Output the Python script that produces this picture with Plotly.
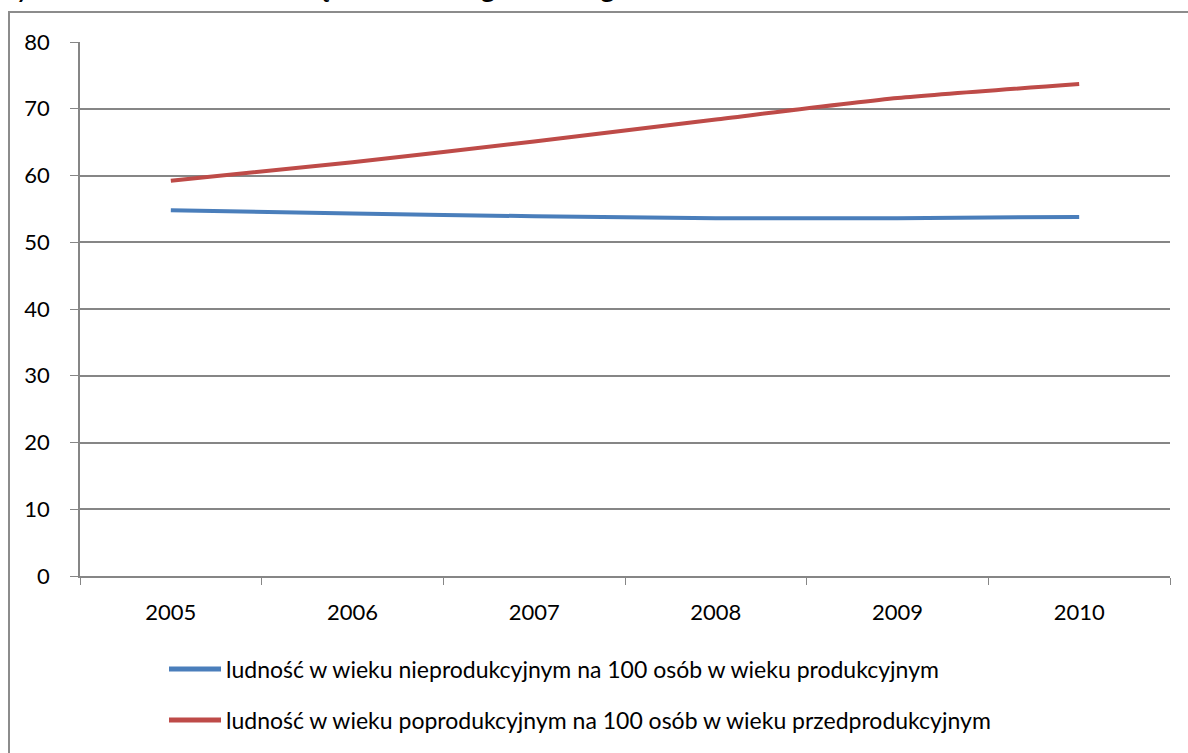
import plotly.graph_objects as go

years = ["2005", "2006", "2007", "2008", "2009", "2010"]
niepro = [54.8, 54.3, 53.9, 53.6, 53.6, 53.8]
popro = [59.2, 62.0, 65.1, 68.4, 71.6, 73.7]
names = [
    "ludność w wieku nieprodukcyjnym na 100 osób w wieku produkcyjnym",
    "ludność w wieku poprodukcyjnym na 100 osób w wieku przedprodukcyjnym",
]
colors = ["#4A7EBB", "#BE4B48"]
title = "Rys. 3.3. Wskaźniki obciążenia demograficznego"

FONT = "Lato"
W, H = 1188, 753
# plot area in page pixels: x 80..1170, y 42..576
L, R, T, B = 80, W - 1170, 42, H - 576
PW, PH = W - L - R, H - T - B


def px_x(p):
    return (p - L) / PW


def px_y(p):
    return (H - B - p) / PH


fig = go.Figure()
for vals, nm, col in zip([niepro, popro], names, colors):
    fig.add_trace(go.Scatter(x=years, y=vals, mode="lines", name=nm,
                             line=dict(color=col, width=4, shape="spline", smoothing=0.6),
                             showlegend=False))

fig.update_layout(
    width=W, height=H,
    margin=dict(l=L, r=R, t=T, b=B, autoexpand=False),
    paper_bgcolor="white", plot_bgcolor="white",
    font=dict(family=FONT, size=22, color="#000000"),
    xaxis=dict(type="category", range=[-0.5, 5.5], showgrid=False,
               ticks="outside", tickson="boundaries", ticklen=7, tickcolor="#868686",
               showline=True, linecolor="#868686", linewidth=1.5,
               ticklabelstandoff=16,
               tickfont=dict(family=FONT, size=22)),
    yaxis=dict(range=[0, 80], dtick=10, showgrid=True, gridcolor="#868686", gridwidth=1.5,
               ticks="outside", ticklen=8, tickcolor="#868686",
               showline=True, linecolor="#868686", linewidth=1.5, zeroline=False,
               ticklabelstandoff=16,
               tickfont=dict(family=FONT, size=22)),
)
# outer chart border (left and top visible)
fig.add_shape(type="rect", xref="paper", yref="paper",
              x0=px_x(9), x1=px_x(1220), y0=px_y(780), y1=px_y(12),
              line=dict(color="#8c8c8c", width=2), layer="above")
# title (partly cut at top, as in reference)
fig.add_annotation(text="<i>" + title + "</i>", xref="paper", yref="paper",
                   x=px_x(-3), y=px_y(5), xanchor="left", yanchor="bottom",
                   showarrow=False, font=dict(family=FONT, size=32, color="#000"))
# legend drawn manually
for i, (nm, col) in enumerate(zip(names, colors)):
    yy = 669 + 51 * i
    fig.add_shape(type="line", xref="paper", yref="paper",
                  x0=px_x(169), x1=px_x(221), y0=px_y(yy), y1=px_y(yy),
                  line=dict(color=col, width=5))
    fig.add_annotation(text=nm, xref="paper", yref="paper",
                       x=px_x(224), y=px_y(yy), xanchor="left", yanchor="middle",
                       showarrow=False, font=dict(family=FONT, size=23, color="#000"))
fig.write_html("out.html", config={"displayModeBar": False},
               post_script="document.body.style.margin='0px';document.body.style.overflow='hidden';")
